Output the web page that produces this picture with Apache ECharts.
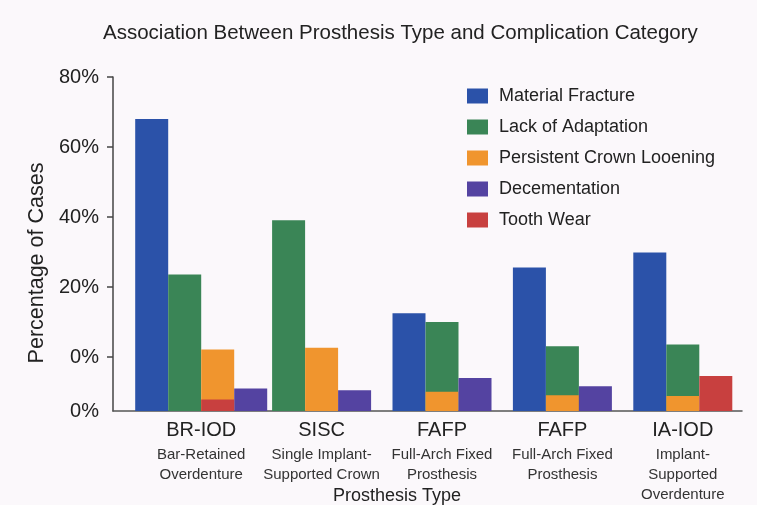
<!DOCTYPE html>
<html>
<head>
<meta charset="utf-8">
<script src="https://cdn.jsdelivr.net/npm/echarts@6/dist/echarts.min.js"></script>
<style>
  html, body { margin: 0; padding: 0; background: #fbf8fb; }
  #chart { width: 757px; height: 505px; }
</style>
</head>
<body>
<div id="chart"></div>
<script>
// categories (abbreviation + long name lines)
var abbrevs = ['BR-IOD', 'SISC', 'FAFP', 'FAFP', 'IA-IOD'];
var descriptions = [
  'Bar-Retained\nOverdenture',
  'Single Implant-\nSupported Crown',
  'Full-Arch Fixed\nProsthesis',
  'Full-Arch Fixed\nProsthesis',
  'Implant-\nSupported\nOverdenture'
];

// values ('-' = no bar)
var materialFracture = [68, '-', 12.5, 25.6, 29.9];
var lackOfAdaptation = [23.6, 39.1, 10, 3.1, 3.6];
var crownLoosening = [2.2, 2.7, -9.9, -10.9, -11.1];
var decementation = [-9, -9.5, -6, -8.3, '-'];
var toothWear = [-12.1, '-', '-', '-', -5.4];

var seriesNames = ['Material Fracture', 'Lack of Adaptation', 'Persistent Crown Looening', 'Decementation', 'Tooth Wear'];

// y ticks (the axis bottom is labelled 0% as well)
var yTickValues = [-15.4, 0, 20, 40, 60, 80];
var yTickLabels = ['0%', '0%', '20%', '40%', '60%', '80%'];

// which columns each series sits in, per category (overlapping ones share a column)
var columns = [
  [[0], [1], [2, 4], [3]],
  [[1], [2], [3]],
  [[0], [1, 2], [3]],
  [[0], [1, 2], [3]],
  [[0], [1, 2], [4]]
];

var colors = ['#2b52a9', '#3a8556', '#f0952e', '#5443a1', '#c8403f'];
var allValues = [materialFracture, lackOfAdaptation, crownLoosening, decementation, toothWear];
var yMin = yTickValues[0];
var yMax = 80;
var colW = 33;
var font = "'Liberation Sans', Arial, sans-serif";

function makeRender(idx) {
  return function (params, api) {
    var cat = api.value(0);
    var cols = columns[cat];
    var c = -1;
    for (var k = 0; k < cols.length; k++) {
      if (cols[k].indexOf(idx) >= 0) c = k;
    }
    var center = api.coord([cat, 0])[0];
    var x0 = center - cols.length * colW / 2 + c * colW;
    var top = api.coord([cat, api.value(1)])[1];
    var base = api.coord([cat, yMin])[1];
    return {
      type: 'rect',
      shape: { x: x0, y: top, width: colW, height: base - top },
      style: { fill: api.visual('color') }
    };
  };
}

var series = allValues.map(function (vals, idx) {
  var data = [];
  vals.forEach(function (v, i) {
    if (v !== '-') data.push([i, v]);
  });
  return {
    type: 'custom',
    name: seriesNames[idx],
    xAxisIndex: 1,
    yAxisIndex: 1,
    itemStyle: { color: colors[idx] },
    encode: { x: 0, y: 1 },
    renderItem: makeRender(idx),
    data: data
  };
});

var myChart = echarts.init(document.getElementById('chart'));

var option = {
  backgroundColor: '#fbf8fb',
  animation: false,
  textStyle: { fontFamily: font },
  title: [
    {
      text: 'Association Between Prosthesis Type and Complication Category',
      left: 103,
      top: 23,
      padding: 0,
      textStyle: { fontFamily: font, fontSize: 20.5, fontWeight: 'normal', color: '#222' }
    },
    {
      text: 'Prosthesis Type',
      left: 333,
      top: 487,
      padding: 0,
      textStyle: { fontFamily: font, fontSize: 18, fontWeight: 'normal', color: '#222' }
    }
  ],
  legend: {
    orient: 'vertical',
    left: 462,
    top: 81,
    itemWidth: 21,
    itemHeight: 15,
    itemGap: 11,
    icon: 'rect',
    data: seriesNames,
    textStyle: { fontFamily: font, fontSize: 18, color: '#222', lineHeight: 20, padding: [0, 0, 0, 6] }
  },
  grid: [
    { left: 113, right: 15, top: 77, bottom: 94 },
    { left: 141, right: 14, top: 77, bottom: 94 }
  ],
  xAxis: [
    {
      type: 'value',
      gridIndex: 0,
      min: 0,
      max: 1,
      axisLine: { show: true, onZero: false, lineStyle: { color: '#555', width: 1.5 } },
      axisTick: { show: false },
      axisLabel: { show: false },
      splitLine: { show: false }
    },
    {
      type: 'category',
      gridIndex: 1,
      data: abbrevs,
      axisLine: { show: false, onZero: false },
      axisTick: { show: false },
      axisLabel: {
        interval: 0,
        margin: 4,
        formatter: function (value, index) {
          return '{a|' + abbrevs[index] + '}\n' + descriptions[index].split('\n').map(function (s) {
            return '{b|' + s + '}';
          }).join('\n');
        },
        rich: {
          a: { fontFamily: font, fontSize: 20, lineHeight: 30, color: '#222' },
          b: { fontFamily: font, fontSize: 15, lineHeight: 20, color: '#333' }
        }
      }
    }
  ],
  yAxis: [
    {
      type: 'value',
      gridIndex: 0,
      min: yMin,
      max: yMax,
      axisLine: { show: true, lineStyle: { color: '#444', width: 1.5 } },
      axisTick: { show: true, length: 6, customValues: yTickValues.slice(1), lineStyle: { color: '#444', width: 1.5 } },
      axisLabel: {
        customValues: yTickValues,
        margin: 14,
        fontFamily: font,
        fontSize: 20,
        color: '#222',
        formatter: function (v) {
          var i = yTickValues.indexOf(v);
          return i >= 0 ? yTickLabels[i] : '';
        }
      },
      splitLine: { show: false }
    },
    {
      type: 'value',
      gridIndex: 1,
      min: yMin,
      max: yMax,
      show: false,
      splitLine: { show: false }
    }
  ],
  graphic: [
    {
      type: 'text',
      x: 37,
      y: 263,
      rotation: Math.PI / 2,
      style: {
        text: 'Percentage of Cases',
        fontFamily: font,
        fontSize: 21.5,
        fill: '#222',
        textAlign: 'center',
        textVerticalAlign: 'middle'
      }
    }
  ],
  series: series
};

myChart.setOption(option);
</script>
</body>
</html>
